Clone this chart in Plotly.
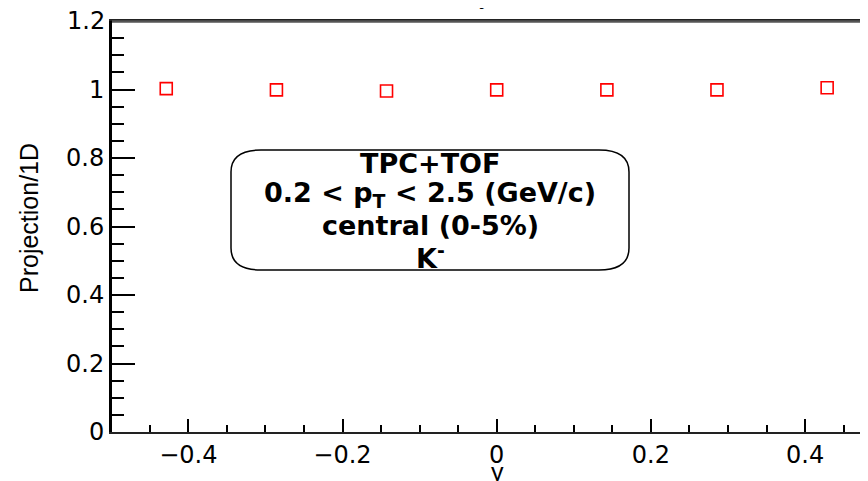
import plotly.graph_objects as go

# ---- data ----
y_centers = [-0.4286, -0.2857, -0.1429, 0.0, 0.1429, 0.2857, 0.4286]
ratio = [1.0025, 0.999, 0.9958, 0.999, 0.999, 0.999, 1.0053]
box_lines = ["TPC+TOF", "0.2 < p<sub>T</sub> < 2.5 (GeV/c)", "central (0-5%)", "K<sup>-</sup>"]
y_top_label = "1.2"

# page body has an 8px margin; compensate so the figure lands where the reference is
OFF = 8
W, H = 868 - OFF, 481 - OFF
PLOT_L, PLOT_T, PLOT_B = 112, 21, 432  # in window pixels
L, T = PLOT_L - OFF, PLOT_T - OFF
B = H - (PLOT_B - OFF)
R = 0
pw, ph = W - L - R, H - T - B


def px(xp):
    return (xp - PLOT_L) / pw


def py(yp):
    return (PLOT_B - yp) / ph


X0_PIX, X_SCALE = 496.7, 771.0  # window px of x=0, px per unit
Y_MAX = 1.2

fig = go.Figure()
fig.add_trace(go.Scatter(
    x=y_centers, y=ratio, mode="markers",
    marker=dict(symbol="square-open", size=12, color="red", line=dict(width=1.6, color="red")),
    showlegend=False,
))

font_ticks = dict(family="DejaVu Sans, Liberation Sans, Arial", size=24, color="black")

fig.update_layout(
    width=W, height=H,
    margin=dict(l=L, r=R, t=T, b=B, pad=0),
    paper_bgcolor="white", plot_bgcolor="white",
    xaxis=dict(
        range=[(PLOT_L - X0_PIX) / X_SCALE, (868 - X0_PIX) / X_SCALE],
        showgrid=False, zeroline=False,
        showline=True, linecolor="#222222", linewidth=2, mirror=True,
        ticks="inside", ticklen=13, tickwidth=1.5, tickcolor="black",
        dtick=0.2, tick0=0,
        minor=dict(ticks="inside", ticklen=7, dtick=0.05, tickcolor="black", tickwidth=1.5),
        tickfont=font_ticks,
    ),
    yaxis=dict(
        range=[0, Y_MAX + 1e-7],
        showgrid=False, zeroline=False,
        showline=True, linecolor="black", linewidth=3,
        ticks="inside", ticklen=23, tickwidth=1.5, tickcolor="black",
        tickvals=[0, 0.2, 0.4, 0.6, 0.8, 1.0, Y_MAX],
        ticktext=["0", "0.2", "0.4", "0.6", "0.8", "1", ""],
        minor=dict(ticks="inside", ticklen=12, dtick=0.05, tickcolor="black", tickwidth=1.5),
        tickfont=font_ticks,
    ),
)

# the top tick label sits at the very edge of the page, draw it as an annotation
fig.add_annotation(text=y_top_label, xref="paper", yref="y", x=px(107), y=Y_MAX,
                   xanchor="right", yanchor="middle", showarrow=False, font=font_ticks)

# top frame line (grey, as in the reference)
fig.add_shape(type="line", xref="paper", yref="paper", x0=0, x1=1, y0=py(21.5), y1=py(21.5),
              line=dict(color="#555555", width=2.5), layer="above")

# rounded box
x0, x1 = px(231), px(629)
y0, y1 = py(270), py(150)
rx, ry = 30 / pw, 22 / ph
path = (f"M {x0+rx},{y1} L {x1-rx},{y1} Q {x1},{y1} {x1},{y1-ry} "
        f"L {x1},{y0+ry} Q {x1},{y0} {x1-rx},{y0} "
        f"L {x0+rx},{y0} Q {x0},{y0} {x0},{y0+ry} "
        f"L {x0},{y1-ry} Q {x0},{y1} {x0+rx},{y1} Z")
fig.add_shape(type="path", xref="paper", yref="paper", path=path,
              line=dict(color="black", width=1.5), fillcolor="white", layer="below")

bold = dict(family="DejaVu Sans, Liberation Sans, Arial", size=27, color="black", weight="bold")
for txt, yp in zip(box_lines, [163, 194, 226, 256]):
    fig.add_annotation(text=txt, xref="paper", yref="paper", x=px(430), y=py(yp),
                       xanchor="center", yanchor="middle", showarrow=False, font=bold)

# axis titles
title_font = dict(family="Liberation Sans, Arial", size=25, color="black")
fig.add_annotation(text="Projection/1D", xref="paper", yref="paper", x=px(29), y=py(218),
                   textangle=-90, xanchor="center", yanchor="middle", showarrow=False, font=title_font)
fig.add_annotation(text="y", xref="paper", yref="paper", x=px(497), y=py(472),
                   xanchor="center", yanchor="middle", showarrow=False, font=title_font)
# top title (mostly cut off at the top edge)
fig.add_annotation(text="y", xref="paper", yref="paper", x=px(485), y=py(11),
                   xanchor="center", yanchor="bottom", showarrow=False, font=title_font)

fig.write_html("out.html")
